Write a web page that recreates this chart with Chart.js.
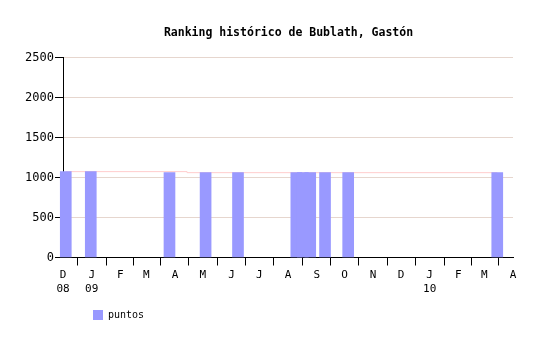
<!DOCTYPE html>
<html>
<head>
<meta charset="utf-8">
<script src="https://cdn.jsdelivr.net/npm/chart.js@4/dist/chart.umd.min.js"></script>
<style>
html,body{margin:0;padding:0;background:#fff;}
#wrap{width:540px;height:340px;}
</style>
</head>
<body>
<div id="wrap"><canvas id="c" width="540" height="340"></canvas></div>
<script>
const chartTitle = 'Ranking histórico de Bublath, Gastón';
const seriesName = 'puntos';
const startDate = '2008-12-01';
const endDate = '2010-04-01';
const barDates = ['2008-12-04','2008-12-31','2009-03-26','2009-05-04','2009-06-08','2009-08-10','2009-08-17','2009-08-25','2009-09-10','2009-10-05','2010-03-15'];
const barValues = [1075,1075,1062,1062,1062,1062,1062,1062,1062,1062,1062];
const lineDates = ['2008-12-04','2009-04-14','2010-03-15'];
const lineValues = [1075,1062,1062];
const tickDates = ['2008-12-01','2009-01-01','2009-02-01','2009-03-01','2009-04-01','2009-05-01','2009-06-01','2009-07-01','2009-08-01','2009-09-01','2009-10-01','2009-11-01','2009-12-01','2010-01-01','2010-02-01','2010-03-01','2010-04-01'];
const monthLabels = ['D','J','F','M','A','M','J','J','A','S','O','N','D','J','F','M','A'];
const yearLabels = ['08','09','','','','','','','','','','','','10','','',''];

function toUTC(s){const p=s.split('-').map(Number);return Date.UTC(p[0],p[1]-1,p[2]);}
const t0 = toUTC(startDate);
function day(s){return (toUTC(s)-t0)/86400000;}
const tickDays = tickDates.map(day);

const boxShift = {
  id:'boxShift',
  afterLayout(chart){
    const l = chart.legend;
    l.left += 83; l.right += 83;
    const t = chart.titleBlock;
    if (t){ t.left += 32; t.right += 32; }
  }
};

const mono = "'DejaVu Sans Mono', monospace";
new Chart(document.getElementById('c'), {
  type:'bar',
  data:{
    datasets:[
      {type:'bar', label:seriesName, data:barDates.map((d,i)=>({x:day(d),y:barValues[i]})),
       backgroundColor:'#9999ff', borderWidth:0, barThickness:11, order:0, clip:false},
      {type:'line', label:'_line', data:lineDates.map((d,i)=>({x:day(d),y:lineValues[i]})),
       borderColor:'#ffcccc', borderWidth:1, pointRadius:0, stepped:true, fill:false, order:1}
    ]
  },
  options:{
    responsive:false, animation:false, devicePixelRatio:1,
    layout:{padding:{left:0,right:27,top:0,bottom:10}},
    plugins:{
      title:{display:true,text:chartTitle,color:'#000',font:{family:mono,size:11.5,weight:'bold'},padding:{top:26,bottom:18}},
      legend:{position:'bottom',align:'start',
        labels:{filter:(it)=>it.text===seriesName,boxWidth:10,boxHeight:10,padding:10,color:'#000',font:{family:mono,size:10}}},
      tooltip:{enabled:false}
    },
    scales:{
      x:{type:'linear',min:0,max:day(endDate),offset:false,
        afterBuildTicks(s){s.ticks=tickDays.map(v=>({value:v}));},
        afterFit(s){s.height += 1;},
        ticks:{autoSkip:false,maxRotation:0,padding:3,color:'#000',font:{family:mono,size:11,lineHeight:1.25},
          callback:(v,i)=> yearLabels[i]?[monthLabels[i],yearLabels[i]]:monthLabels[i]},
        grid:{drawOnChartArea:false,tickColor:'#000',tickLength:8,tickWidth:1},
        border:{display:true,color:'#000',width:1}
      },
      y:{min:0,max:2500,
        afterFit(s){s.width=63;},
        ticks:{stepSize:500,padding:1,color:'#000',font:{family:mono,size:12},callback:(v)=>String(v)},
        grid:{color:'#e6d6ce',tickColor:'#000',tickLength:8,lineWidth:1},
        border:{display:true,color:'#000',width:1}
      }
    }
  },
  plugins:[boxShift]
});
</script>
</body>
</html>
